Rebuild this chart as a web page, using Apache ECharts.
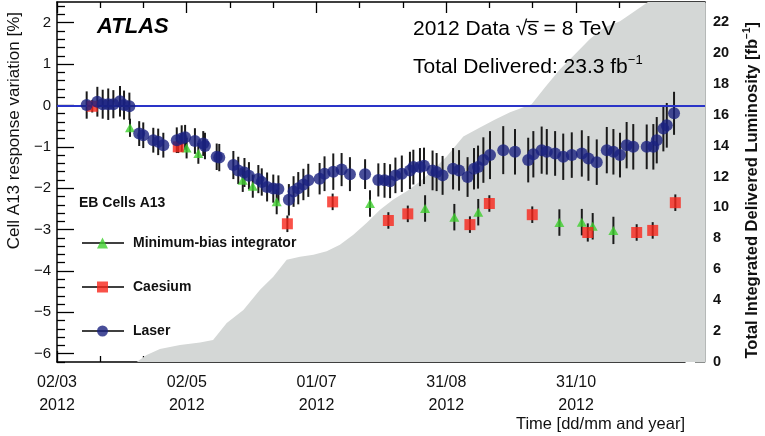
<!DOCTYPE html>
<html><head><meta charset="utf-8">
<script src="https://cdn.jsdelivr.net/npm/echarts@6/dist/echarts.min.js"></script>
<style>html,body{margin:0;padding:0;background:#fff}#c{width:765px;height:436px}</style>
</head><body><div id="c"></div>
<script>
// ---- data (x = days since 02/03/2012) ----
const laserDay = [13.9, 18.9, 21.4, 24.0, 26.4, 29.5, 31.4, 33.9, 38.5, 40.4, 45.1, 47.4, 49.8, 56.1, 58.4, 60.0, 64.6, 68.5, 69.3, 74.8, 76.0, 82.6, 84.9, 87.8, 89.9, 94.3, 95.9, 98.4, 101.3, 103.7, 108.6, 110.8, 113.0, 115.4, 117.7, 123.0, 125.3, 129.4, 133.3, 137.2, 144.3, 150.5, 153.4, 156.0, 158.5, 161.5, 165.3, 166.9, 170.0, 171.9, 175.9, 177.8, 180.6, 185.5, 188.3, 192.3, 195.3, 197.2, 199.7, 202.8, 209.0, 214.5, 220.7, 223.1, 227.0, 229.4, 233.3, 237.1, 241.1, 245.8, 248.9, 252.8, 257.5, 260.6, 263.7, 266.8, 269.9, 276.2, 279.3, 280.9, 284.0, 285.6, 289.0];
const laserVal = [0.01, 0.09, 0.03, 0.03, 0.03, 0.10, 0.01, -0.02, -0.68, -0.72, -0.84, -0.88, -0.96, -0.84, -0.80, -0.77, -0.86, -0.92, -0.98, -1.24, -1.26, -1.44, -1.57, -1.62, -1.70, -1.78, -1.85, -1.97, -2.01, -2.02, -2.28, -2.08, -2.00, -1.91, -1.81, -1.77, -1.65, -1.60, -1.55, -1.66, -1.66, -1.80, -1.81, -1.83, -1.69, -1.65, -1.57, -1.49, -1.49, -1.46, -1.57, -1.61, -1.69, -1.53, -1.57, -1.73, -1.53, -1.49, -1.32, -1.20, -1.08, -1.12, -1.32, -1.18, -1.08, -1.12, -1.16, -1.24, -1.20, -1.16, -1.28, -1.37, -1.08, -1.12, -1.20, -0.96, -1.00, -1.00, -1.00, -0.84, -0.56, -0.48, -0.19];
const laserErr = [0.33, 0.36, 0.35, 0.38, 0.34, 0.37, 0.35, 0.33, 0.30, 0.31, 0.30, 0.32, 0.30, 0.31, 0.32, 0.30, 0.31, 0.30, 0.32, 0.32, 0.33, 0.34, 0.33, 0.35, 0.33, 0.34, 0.33, 0.35, 0.34, 0.33, 0.38, 0.37, 0.39, 0.38, 0.40, 0.38, 0.42, 0.44, 0.40, 0.41, 0.36, 0.40, 0.42, 0.41, 0.43, 0.44, 0.45, 0.42, 0.46, 0.44, 0.48, 0.46, 0.47, 0.50, 0.49, 0.48, 0.50, 0.52, 0.55, 0.58, 0.58, 0.55, 0.54, 0.56, 0.57, 0.55, 0.54, 0.56, 0.55, 0.56, 0.54, 0.55, 0.56, 0.55, 0.54, 0.56, 0.55, 0.54, 0.55, 0.56, 0.55, 0.54, 0.52];
const mbDay = [34.2, 60.7, 66.2, 87.0, 91.7, 102.9, 146.6, 172.4, 186.1, 197.3, 235.3, 245.8, 250.9, 260.6];
const mbVal = [-0.54, -1.03, -1.16, -1.81, -1.95, -2.33, -2.37, -2.49, -2.70, -2.58, -2.83, -2.82, -2.92, -3.02];
const mbErr = [0.22, 0.25, 0.25, 0.28, 0.28, 0.30, 0.32, 0.32, 0.32, 0.32, 0.32, 0.32, 0.32, 0.33];
const csDay = [16.5, 56.8, 107.9, 129.1, 155.2, 164.3, 193.4, 202.5, 222.6, 248.6, 271.5, 279.0, 289.6];
const csVal = [-0.02, -1.00, -2.86, -2.33, -2.78, -2.62, -2.88, -2.37, -2.64, -3.07, -3.07, -3.02, -2.35];
const csErr = [0.15, 0.15, 0.20, 0.20, 0.20, 0.20, 0.20, 0.20, 0.20, 0.22, 0.20, 0.20, 0.20];
const lumiDay = [37.3, 42.0, 48.2, 57.6, 67.0, 73.1, 79.5, 87.3, 95.1, 101.3, 107.6, 113.8, 120.1, 126.3, 132.5, 138.8, 145.1, 151.3, 157.5, 163.8, 170.0, 176.3, 182.5, 190.3, 198.1, 205.2, 212.2, 222.3, 228.6, 235.6, 242.6, 249.6, 256.6, 263.7, 270.7, 276.8, 303.5];
const lumiVal = [0, 0.45, 0.84, 1.10, 1.27, 1.43, 2.53, 3.37, 4.67, 5.52, 6.62, 6.81, 6.94, 7.16, 7.59, 8.24, 9.02, 9.86, 10.51, 11.05, 11.68, 12.46, 13.30, 14.60, 15.18, 15.70, 16.16, 16.68, 17.78, 18.95, 19.92, 20.90, 21.67, 22.06, 22.71, 23.30, 23.30];
// ---- ticks ----
const xTickDays = [0, 60.75, 121.5, 182.25, 243];
const xTickLabels = ['02/03\n2012', '02/05\n2012', '01/07\n2012', '31/08\n2012', '31/10\n2012'];
const xMinorDays = [20.25, 40.5, 81, 101.25, 141.75, 162, 202.5, 222.75, 263.25, 283.5];
const leftTicks = [-6, -5, -4, -3, -2, -1, 0, 1, 2];
const rightTicks = [0, 2, 4, 6, 8, 10, 12, 14, 16, 18, 20, 22];

const leftMinor = [];
for (let k = -31; k <= 12; k++) { if (k % 5 !== 0) leftMinor.push(+(k * 0.2).toFixed(2)); }
const rightMinor = [];
for (let k = 1; k <= 46; k++) { if (k % 4 !== 0) rightMinor.push(k * 0.5); }

const FF = '"Liberation Sans", Arial, Helvetica, sans-serif';
const BLUE = '#1a2280', RED = '#f8261a', GREEN = '#3fd02e', GRAY = '#d4d7d6';
const LEG_TOP = 235, LEG_PITCH = 44, LEG_H = 16;

function errSeries(name, days, vals, errs, z, extra) {
  return Object.assign({
    type: 'custom', name: name, xAxisIndex: 0, yAxisIndex: 0, z: z, silent: true,
    data: days.map((d, i) => [d, vals[i], errs[i]]),
    encode: { x: 0, y: 1 },
    renderItem: function (params, api) {
      const x = api.value(0), y = api.value(1), e = api.value(2);
      const a = api.coord([x, y + e]), b = api.coord([x, y - e]);
      return { type: 'line', shape: { x1: a[0], y1: a[1], x2: b[0], y2: b[1] },
               style: { stroke: '#1a1a1a', lineWidth: 2 } };
    }
  }, extra || {});
}

function legLine(i) {
  const y = LEG_TOP + LEG_H / 2 + i * LEG_PITCH;
  return { type: 'line', z: 0, shape: { x1: 82, y1: y, x2: 124, y2: y }, style: { stroke: '#000', lineWidth: 1.4 } };
}

const chart = echarts.init(document.getElementById('c'), null, { renderer: 'canvas' });
const blackLine = { show: true, onZero: false, lineStyle: { color: '#000', width: 1.5 } };
chart.setOption({
  animation: false,
  backgroundColor: '#fff',
  grid: [
    { left: 57, right: 60, top: 2, bottom: 74, outerBoundsMode: 'none', containLabel: false },
    { left: 57, right: 80, top: 2, bottom: 74, outerBoundsMode: 'none', containLabel: false }
  ],
  xAxis: [
    { gridIndex: 0, type: 'value', min: 0, max: 303.5, position: 'bottom', show: false, axisLine: { onZero: false } },
    { gridIndex: 0, type: 'value', min: 0, max: 303.5, position: 'top', axisLine: blackLine,
      axisTick: { show: true, inside: true, length: 11, customValues: xTickDays, lineStyle: { color: '#000', width: 1.3 } },
      axisLabel: { show: false }, splitLine: { show: false } },
    { gridIndex: 0, type: 'value', min: 0, max: 303.5, position: 'top', axisLine: { show: false, onZero: false },
      axisTick: { show: true, inside: true, length: 6, customValues: xMinorDays, lineStyle: { color: '#000', width: 1.3 } },
      axisLabel: { show: false }, splitLine: { show: false } },
    { gridIndex: 1, type: 'value', min: 0, max: 294, position: 'bottom', axisLine: blackLine,
      axisTick: { show: true, inside: true, length: 11, customValues: xTickDays, lineStyle: { color: '#000', width: 1.3 } },
      axisLabel: { show: true, customValues: xTickDays, margin: 9, fontFamily: FF, fontSize: 16, lineHeight: 23, color: '#111',
        formatter: v => xTickLabels[xTickDays.indexOf(v)] || '' },
      splitLine: { show: false } },
    { gridIndex: 1, type: 'value', min: 0, max: 294, position: 'bottom', axisLine: { show: false, onZero: false },
      axisTick: { show: true, inside: true, length: 6, customValues: xMinorDays, lineStyle: { color: '#000', width: 1.3 } },
      axisLabel: { show: false }, splitLine: { show: false } }
  ],
  yAxis: [
    { gridIndex: 0, type: 'value', min: -6.2, max: 2.5, position: 'left', axisLine: blackLine,
      axisTick: { show: true, inside: true, length: 17, customValues: leftTicks, lineStyle: { color: '#000', width: 1.3 } },
      axisLabel: { show: true, customValues: leftTicks, margin: 6, fontFamily: FF, fontSize: 15, color: '#111',
        formatter: v => String(v).replace('-', '\u2212') },
      splitLine: { show: false } },
    { gridIndex: 0, type: 'value', min: -6.2, max: 2.5, position: 'left', axisLine: { show: false, onZero: false },
      axisTick: { show: true, inside: true, length: 8, customValues: leftMinor, lineStyle: { color: '#000', width: 1.3 } },
      axisLabel: { show: false }, splitLine: { show: false } },
    { gridIndex: 0, type: 'value', min: 0, max: 23.3, position: 'right',
      axisLine: { show: true, onZero: false, lineStyle: { color: '#b5b8b7', width: 1 } },
      axisTick: { show: true, inside: true, length: 10, customValues: rightTicks, lineStyle: { color: '#8a8d8c', width: 1 } },
      axisLabel: { show: true, customValues: rightTicks, margin: 8, fontFamily: FF, fontSize: 14.5, fontWeight: 'bold', color: '#111' },
      splitLine: { show: false } },
    { gridIndex: 0, type: 'value', min: 0, max: 23.3, position: 'right', axisLine: { show: false, onZero: false },
      axisTick: { show: true, inside: true, length: 6, customValues: rightMinor, lineStyle: { color: '#9a9d9c', width: 1 } },
      axisLabel: { show: false }, splitLine: { show: false } },
    { gridIndex: 1, type: 'value', min: 0, max: 1, show: false, axisLine: { onZero: false } }
  ],
  legend: {
    orient: 'vertical', left: 97, top: LEG_TOP, padding: 0, itemWidth: 11, itemHeight: 11, itemGap: LEG_PITCH - LEG_H,
    selectedMode: false, itemStyle: { borderWidth: 0 },
    textStyle: { fontFamily: FF, fontSize: 14, fontWeight: 'bold', color: '#111', lineHeight: LEG_H, padding: [0, 0, 0, 20] },
    data: [ { name: 'Minimum-bias integrator', icon: 'triangle' }, { name: 'Caesium', icon: 'rect' }, { name: 'Laser', icon: 'circle' } ]
  },
  graphic: [
    legLine(0), legLine(1), legLine(2),
    { type: 'text', z: 10, x: 97, y: 27, style: { text: 'ATLAS', font: 'italic bold 22px ' + FF, fill: '#000', align: 'left', verticalAlign: 'middle' } },
    { type: 'text', z: 10, x: 413, y: 29, style: { text: '2012 Data \u221As\u0305 = 8 TeV', font: '21px ' + FF, fill: '#000', align: 'left', verticalAlign: 'middle' } },
    { type: 'text', z: 10, x: 413, y: 67, style: {
        text: '{a|Total Delivered: 23.3 fb}{s|\u22121}', align: 'left', verticalAlign: 'middle',
        rich: { a: { fontFamily: FF, fontSize: 21, fill: '#000', lineHeight: 26 },
                s: { fontFamily: FF, fontSize: 13, fill: '#000', lineHeight: 13, verticalAlign: 'top' } } } },
    { type: 'text', z: 10, x: 79, y: 203, style: { text: 'EB Cells A13', font: 'bold 14px ' + FF, fill: '#111', align: 'left', verticalAlign: 'middle' } },
    { type: 'text', z: 10, x: 685, y: 424, style: { text: 'Time [dd/mm and year]', font: '16.5px ' + FF, fill: '#111', align: 'right', verticalAlign: 'middle' } },
    { type: 'text', z: 10, x: 14, y: 12, rotation: Math.PI / 2, style: { text: 'Cell A13 response variation [%]', font: '17px ' + FF, fill: '#111', align: 'right', verticalAlign: 'middle' } },
    { type: 'text', z: 10, x: 752, y: 22, rotation: Math.PI / 2, style: {
        text: '{a|Total Integrated Delivered Luminosity [fb}{s|\u22121}{a|]}', align: 'right', verticalAlign: 'middle',
        rich: { a: { fontFamily: FF, fontSize: 16.5, fontWeight: 'bold', fill: '#111', lineHeight: 20 },
                s: { fontFamily: FF, fontSize: 10, fontWeight: 'bold', fill: '#111', lineHeight: 10, verticalAlign: 'top' } } } }
  ],
  series: [
    { type: 'line', name: 'lumi', xAxisIndex: 0, yAxisIndex: 2, z: 1, silent: true, symbol: 'none', showSymbol: false,
      data: lumiDay.map((d, i) => [d, lumiVal[i]]), lineStyle: { width: 0, opacity: 0 }, areaStyle: { color: GRAY, opacity: 1 } },
    errSeries('laserErr', laserDay, laserVal, laserErr, 3, {
      markLine: { silent: true, symbol: ['none', 'none'], label: { show: false }, animation: false,
        lineStyle: { color: '#2a34c8', width: 2, type: 'solid' }, data: [{ yAxis: 0 }] } }),
    errSeries('mbErr', mbDay, mbVal, mbErr, 3),
    errSeries('csErr', csDay, csVal, csErr, 3),
    { type: 'scatter', name: 'Minimum-bias integrator', xAxisIndex: 0, yAxisIndex: 0, z: 5, symbol: 'triangle', symbolSize: [10, 9],
      itemStyle: { color: GREEN }, data: mbDay.map((d, i) => [d, mbVal[i]]) },
    { type: 'scatter', name: 'Caesium', xAxisIndex: 0, yAxisIndex: 0, z: 5, symbol: 'rect', symbolSize: 11,
      itemStyle: { color: RED }, data: csDay.map((d, i) => [d, csVal[i]]) },
    { type: 'scatter', name: 'Laser', xAxisIndex: 0, yAxisIndex: 0, z: 6, symbol: 'circle', symbolSize: 12,
      itemStyle: { color: BLUE }, data: laserDay.map((d, i) => [d, laserVal[i]]) },
    { type: 'scatter', name: 'axisHolder', xAxisIndex: 3, yAxisIndex: 4, data: [], silent: true }
  ]
});
</script></body></html>
